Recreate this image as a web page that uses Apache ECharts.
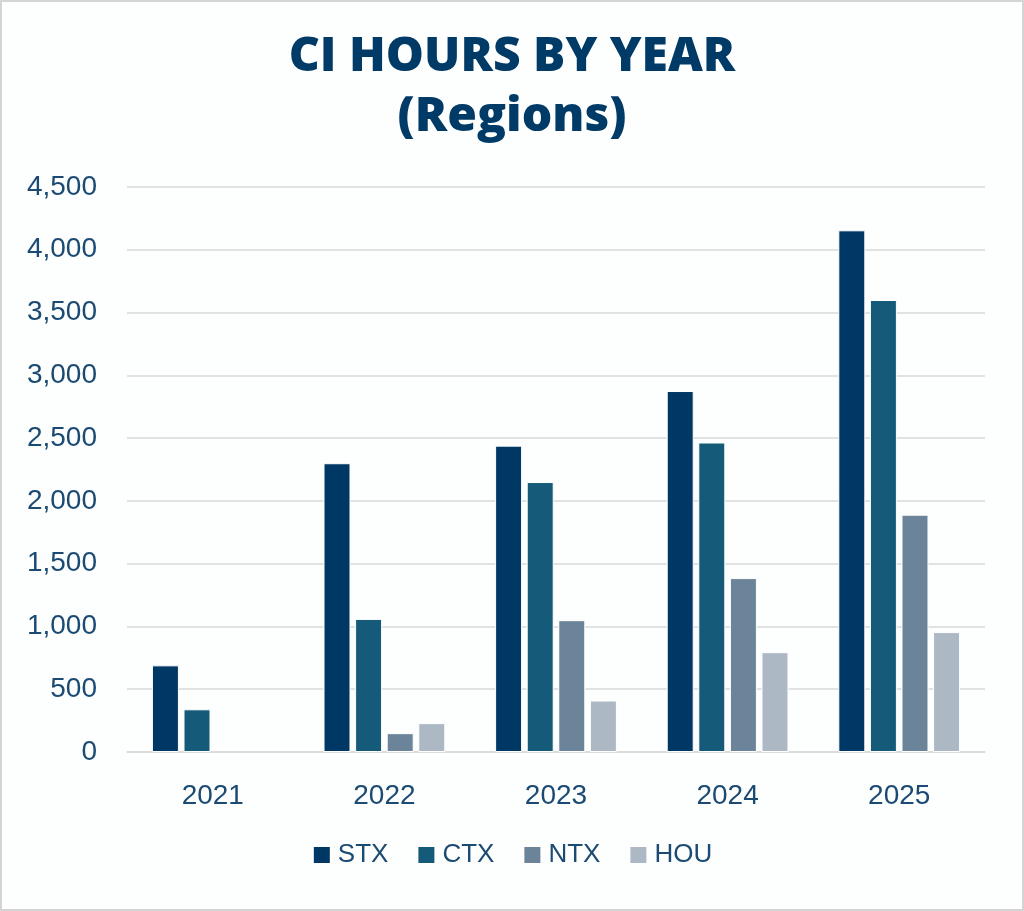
<!DOCTYPE html>
<html>
<head>
<meta charset="utf-8">
<script src="https://cdn.jsdelivr.net/npm/echarts@6/dist/echarts.min.js"></script>
<style>
html,body{margin:0;padding:0;background:#fff;}
#c{width:1024px;height:911px;}
</style>
</head>
<body>
<div id="c"></div>
<script>
const years = ['2021','2022','2023','2024','2025'];
const stx = [690, 2300, 2440, 2875, 4155];
const ctx = [340, 1060, 2150, 2465, 3600];
const ntx = [null, 150, 1050, 1385, 1890];
const hou = [null, 230, 410, 795, 955];
const seriesNames = ['STX','CTX','NTX','HOU'];
const colors = ['#003865','#155a78','#6b8499','#adb8c5'];

const chart = echarts.init(document.getElementById('c'), null, {renderer:'canvas'});
const textColor = '#1b4a72';
const mk = (name, data, i) => ({
  name, type:'bar', data,
  barWidth: 27, barGap: '17%',
  itemStyle:{color: colors[i], borderColor:'#ffffff', borderWidth:1}
});
chart.setOption({
  backgroundColor:'#fdfefe',
  animation:false,
  title:{
    text:'CI HOURS BY YEAR\n(Regions)',
    left:'center', top:22,
    textStyle:{fontFamily:'Open Sans', fontWeight:800, fontSize:48, color:'#003a66', lineHeight:60}
  },
  grid:{left:127, right:39, top:187, bottom:159, containLabel:false},
  legend:{
    data: seriesNames,
    bottom: 38, left:'center',
    itemWidth:18, itemHeight:18, itemGap:28,
    icon:'rect',
    textStyle:{fontFamily:'Liberation Sans', fontSize:26, color:textColor, padding:[0,0,0,2]}
  },
  xAxis:{
    type:'category', data: years,
    axisLine:{show:true, lineStyle:{color:'#d9d9d9', width:1.5}},
    axisTick:{show:false},
    axisLabel:{fontFamily:'Liberation Sans', fontSize:28, color:textColor, margin:30}
  },
  yAxis:{
    type:'value', min:0, max:4500, interval:500,
    axisLine:{show:false}, axisTick:{show:false},
    splitLine:{lineStyle:{color:'#d9d9d9', width:1.5}},
    axisLabel:{fontFamily:'Liberation Sans', fontSize:28, color:textColor, margin:30,
      formatter: v => v.toLocaleString('en-US')}
  },
  graphic:[{type:'rect', shape:{x:1,y:1,width:1022,height:909}, style:{fill:'none', stroke:'#d4d4d4', lineWidth:2}, silent:true}],
  series:[mk('STX',stx,0), mk('CTX',ctx,1), mk('NTX',ntx,2), mk('HOU',hou,3)]
});
</script>
</body>
</html>
